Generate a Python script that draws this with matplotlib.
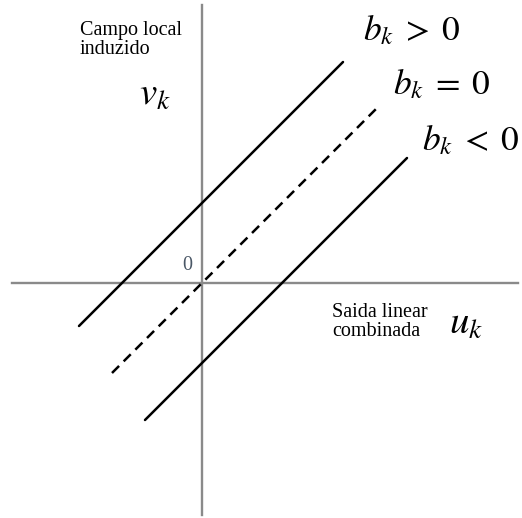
import numpy as np
import matplotlib.pyplot as plt

plt.rcParams['mathtext.fontset'] = 'stix'

# bias offsets for the three affine lines v = u + b
biases = [80, 0, -80]
u_start = [-123, -90, -57]
u_end = [141, 177, 205]
styles = ['-', '--', '-']
bias_labels = [r'$b_k\;>\;0$', r'$b_k\;=\;0$', r'$b_k\;<\;0$']
label_pos = [(161, 253), (191, 199), (220, 143)]

fig = plt.figure(figsize=(5.22, 5.18), dpi=100)
ax = fig.add_axes([0, 0, 1, 1])
ax.set_xlim(-202, 320)
ax.set_ylim(-235, 283)
ax.axis('off')

# coordinate axes
ax.plot([-190, 316], [0, 0], color='#8a8a8a', lw=1.7, zorder=1)
ax.plot([0, 0], [278, -232], color='#8a8a8a', lw=1.7, zorder=1)

for b, u0, u1, ls in zip(biases, u_start, u_end, styles):
    u = np.array([u0, u1])
    line, = ax.plot(u, u + b, color='black', lw=1.8, ls=ls,
                    solid_capstyle='round', zorder=2)
    if ls == '--':
        line.set_dashes((4, 2.6))

for txt, (x, y) in zip(bias_labels, label_pos):
    ax.text(x, y, txt, fontsize=25.5, ha='left', va='center')

ax.text(-122, 262, 'Campo local\ninduzido', fontsize=14.5, family='Liberation Serif',
        ha='left', va='top', linespacing=1.0)
ax.text(-47, 189, r'$v_k$', fontsize=28, ha='center', va='center')

ax.text(-15, 18, '0', fontsize=14.5, family='Liberation Serif', color='#4a5766',
        ha='center', va='center')

ax.text(130, -39, 'Saida linear\ncombinada', fontsize=14.5, family='Liberation Serif',
        ha='left', va='center', linespacing=1.0)
ax.text(264, -40, r'$u_k$', fontsize=28, ha='center', va='center')

fig.savefig('out.png', dpi=100, facecolor='white')
